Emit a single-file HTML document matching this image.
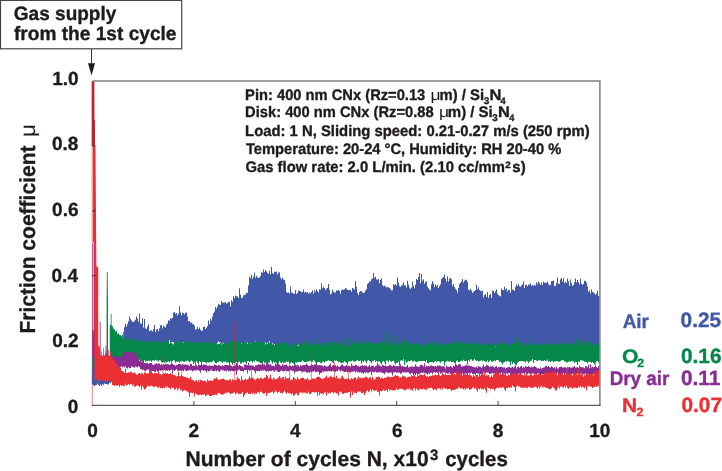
<!DOCTYPE html>
<html>
<head>
<meta charset="utf-8">
<title>Friction coefficient vs number of cycles</title>
<style>
html,body{margin:0;padding:0;background:#fff;}
body{width:722px;height:471px;overflow:hidden;}
svg{display:block;will-change:transform;}
svg text{font-family:"Liberation Sans",sans-serif;font-weight:bold;text-rendering:geometricPrecision;stroke-width:0.35px;stroke-linejoin:round;}
</style>
</head>
<body>
<svg width="722" height="471" viewBox="0 0 722 471">
<rect width="722" height="471" fill="#fff"/>
<g id="ticks">
<line x1="92.0" y1="340.6" x2="95.8" y2="340.6" stroke="#4a1c20" stroke-width="0.8"/>
</g>
<g id="bands">
<path d="M92.5,372.2H93.0V371.8H94.0V371.9H95.0V372.0H96.0V372.4H97.0V372.8H98.0V372.0H99.0V371.9H100.0V373.0H101.0V372.7H102.0V374.1H103.0V373.1H104.0V372.5H105.0V372.5H106.0V372.1H107.0V372.8H108.0V373.8H109.0V372.3H110.0V372.0H111.0V372.3H112.0V372.3H113.0V371.0H114.0V372.9H115.0V372.6H116.0V372.1H117.0V371.6H118.0V372.1H119.0V371.0H120.0V370.9H121.0V370.9H122.0V371.2H123.0V370.8H123.2V380.6H123.0V380.7H122.0V380.5H121.0V382.0H120.0V380.4H119.0V384.3H118.0V380.8H117.0V382.9H116.0V380.9H115.0V380.1H114.0V379.5H113.0V380.4H112.0V382.0H111.0V383.2H110.0V382.4H109.0V384.5H108.0V384.6H107.0V384.0H106.0V384.0H105.0V383.4H104.0V385.1H103.0V384.1H102.0V385.9H101.0V384.4H100.0V383.5H99.0V384.9H98.0V383.6H97.0V385.1H96.0V385.3H95.0V386.2H94.0V385.1H93.0V385.2H92.5Z" fill="#4058a7"/>
<path d="M123.2,332.0H124.0V327.2H125.0V323.8H126.0V326.4H127.0V323.9H128.0V321.3H129.0V316.4H130.0V318.9H131.0V320.4H132.0V322.0H133.0V322.0H134.0V321.3H135.0V319.8H136.0V316.6H137.0V318.5H138.0V321.6H139.0V313.5H140.0V323.4H141.0V323.8H142.0V318.3H143.0V327.5H144.0V319.1H145.0V328.4H146.0V329.1H147.0V326.5H148.0V324.3H149.0V330.9H150.0V330.3H151.0V330.5H152.0V331.5H153.0V329.0H154.0V324.9H155.0V331.9H156.0V329.6H157.0V328.9H158.0V331.2H159.0V328.3H160.0V325.3H161.0V325.3H162.0V328.4H163.0V325.7H164.0V326.7H165.0V327.6H166.0V324.4H167.0V323.5H168.0V320.3H169.0V320.9H170.0V318.3H171.0V318.7H172.0V317.9H173.0V312.8H174.0V311.9H175.0V314.0H176.0V313.1H177.0V315.4H178.0V313.7H179.0V306.2H180.0V312.4H181.0V315.4H182.0V312.8H183.0V313.2H184.0V314.2H185.0V312.7H186.0V312.4H187.0V316.6H188.0V321.2H189.0V321.1H190.0V322.8H191.0V322.6H192.0V323.7H193.0V324.4H194.0V325.6H195.0V329.7H196.0V329.0H197.0V326.7H198.0V329.1H199.0V327.4H200.0V329.8H201.0V330.7H202.0V330.5H203.0V327.0H204.0V326.6H205.0V328.9H206.0V327.8H207.0V325.9H208.0V320.4H209.0V324.0H210.0V318.6H211.0V320.4H212.0V316.5H213.0V313.3H214.0V311.4H215.0V306.9H216.0V308.6H217.0V306.3H218.0V303.8H219.0V304.6H220.0V305.0H221.0V301.1H222.0V302.7H223.0V302.6H224.0V302.6H225.0V301.9H226.0V303.8H227.0V303.1H228.0V301.7H229.0V301.7H230.0V306.3H231.0V300.3H232.0V301.8H233.0V296.3H234.0V298.2H235.0V295.6H236.0V296.3H237.0V296.5H238.0V297.9H239.0V288.2H240.0V294.7H241.0V297.9H242.0V297.7H243.0V295.4H244.0V294.7H245.0V294.8H246.0V292.7H247.0V293.1H248.0V285.5H249.0V276.5H250.0V278.3H251.0V274.7H252.0V278.7H253.0V276.6H254.0V272.5H255.0V277.7H256.0V275.7H257.0V277.6H258.0V278.1H259.0V277.6H260.0V275.9H261.0V272.3H262.0V272.7H263.0V269.6H264.0V272.1H265.0V270.0H266.0V271.2H267.0V272.9H268.0V274.0H269.0V270.8H270.0V274.3H271.0V266.7H272.0V273.0H273.0V274.1H274.0V271.6H275.0V271.9H276.0V271.5H277.0V274.6H278.0V272.8H279.0V272.3H280.0V277.4H281.0V279.5H282.0V277.7H283.0V279.4H284.0V280.1H285.0V283.6H286.0V292.0H287.0V292.9H288.0V292.5H289.0V293.5H290.0V286.6H291.0V292.5H292.0V292.7H293.0V293.6H294.0V293.8H295.0V289.9H296.0V294.0H297.0V293.1H298.0V290.5H299.0V290.9H300.0V290.9H301.0V292.3H302.0V291.9H303.0V289.6H304.0V292.4H305.0V291.9H306.0V292.4H307.0V292.2H308.0V293.5H309.0V292.4H310.0V293.6H311.0V292.0H312.0V290.3H313.0V293.8H314.0V289.9H315.0V291.7H316.0V289.3H317.0V290.9H318.0V292.6H319.0V289.2H320.0V289.8H321.0V283.2H322.0V288.3H323.0V286.7H324.0V288.1H325.0V290.2H326.0V288.8H327.0V288.1H328.0V284.0H329.0V289.4H330.0V294.4H331.0V293.6H332.0V289.7H333.0V291.7H334.0V292.6H335.0V292.5H336.0V290.4H337.0V290.5H338.0V290.0H339.0V291.0H340.0V293.8H341.0V289.9H342.0V289.5H343.0V289.8H344.0V289.4H345.0V287.9H346.0V288.7H347.0V289.8H348.0V290.3H349.0V289.9H350.0V290.0H351.0V291.8H352.0V287.9H353.0V288.5H354.0V289.5H355.0V281.0H356.0V286.6H357.0V293.0H358.0V295.0H359.0V292.1H360.0V291.0H361.0V291.2H362.0V292.5H363.0V293.0H364.0V292.4H365.0V290.6H366.0V289.3H367.0V283.7H368.0V282.9H369.0V281.4H370.0V281.4H371.0V279.2H372.0V278.4H373.0V273.0H374.0V277.8H375.0V276.8H376.0V279.4H377.0V279.4H378.0V279.0H379.0V283.3H380.0V279.9H381.0V278.2H382.0V284.9H383.0V286.3H384.0V285.4H385.0V286.4H386.0V287.6H387.0V286.7H388.0V287.6H389.0V287.7H390.0V289.1H391.0V290.4H392.0V290.2H393.0V284.2H394.0V285.0H395.0V284.2H396.0V285.5H397.0V277.6H398.0V282.4H399.0V286.0H400.0V286.8H401.0V285.4H402.0V284.7H403.0V282.6H404.0V285.3H405.0V285.4H406.0V287.5H407.0V280.7H408.0V284.4H409.0V287.4H410.0V289.1H411.0V287.7H412.0V281.5H413.0V285.7H414.0V288.3H415.0V284.5H416.0V278.9H417.0V279.9H418.0V277.1H419.0V272.9H420.0V283.3H421.0V274.0H422.0V280.8H423.0V279.3H424.0V283.8H425.0V282.1H426.0V281.2H427.0V286.8H428.0V288.2H429.0V289.6H430.0V290.2H431.0V284.2H432.0V281.3H433.0V283.5H434.0V286.9H435.0V284.4H436.0V286.3H437.0V284.7H438.0V288.0H439.0V286.1H440.0V284.2H441.0V278.9H442.0V277.7H443.0V276.9H444.0V274.4H445.0V278.6H446.0V281.5H447.0V276.2H448.0V281.6H449.0V278.4H450.0V278.0H451.0V279.6H452.0V285.8H453.0V284.1H454.0V287.1H455.0V288.7H456.0V290.0H457.0V292.7H458.0V288.1H459.0V284.2H460.0V282.7H461.0V281.3H462.0V279.0H463.0V282.5H464.0V280.8H465.0V279.8H466.0V279.8H467.0V281.7H468.0V289.6H469.0V290.5H470.0V288.8H471.0V290.4H472.0V292.9H473.0V291.7H474.0V291.0H475.0V290.1H476.0V284.6H477.0V289.2H478.0V287.3H479.0V290.0H480.0V290.7H481.0V291.2H482.0V290.7H483.0V297.5H484.0V295.1H485.0V294.1H486.0V296.8H487.0V292.0H488.0V297.8H489.0V295.1H490.0V294.0H491.0V298.0H492.0V290.5H493.0V291.0H494.0V293.1H495.0V291.3H496.0V289.5H497.0V293.8H498.0V295.1H499.0V296.0H500.0V296.5H501.0V288.4H502.0V290.1H503.0V289.9H504.0V286.5H505.0V289.4H506.0V288.4H507.0V291.5H508.0V289.8H509.0V289.9H510.0V292.7H511.0V281.0H512.0V289.6H513.0V290.0H514.0V291.0H515.0V286.9H516.0V284.6H517.0V286.1H518.0V283.8H519.0V286.2H520.0V286.7H521.0V285.4H522.0V284.6H523.0V281.3H524.0V288.1H525.0V285.1H526.0V284.8H527.0V286.6H528.0V284.6H529.0V284.8H530.0V283.2H531.0V285.9H532.0V284.7H533.0V286.0H534.0V284.7H535.0V285.5H536.0V282.3H537.0V284.2H538.0V281.4H539.0V283.1H540.0V285.0H541.0V282.4H542.0V285.1H543.0V281.4H544.0V282.7H545.0V283.1H546.0V282.8H547.0V281.8H548.0V283.9H549.0V285.4H550.0V284.7H551.0V281.1H552.0V280.9H553.0V280.5H554.0V285.9H555.0V285.9H556.0V283.0H557.0V277.4H558.0V284.1H559.0V283.7H560.0V279.2H561.0V278.0H562.0V281.6H563.0V278.3H564.0V283.1H565.0V281.8H566.0V282.9H567.0V278.6H568.0V281.3H569.0V285.9H570.0V279.5H571.0V283.2H572.0V286.0H573.0V284.9H574.0V282.2H575.0V278.5H576.0V282.4H577.0V280.1H578.0V282.0H579.0V284.5H580.0V278.7H581.0V283.6H582.0V284.9H583.0V284.1H584.0V280.7H585.0V281.1H586.0V282.6H587.0V286.6H588.0V291.7H589.0V290.4H590.0V293.4H591.0V289.6H592.0V291.7H593.0V292.5H594.0V293.3H595.0V294.7H596.0V293.5H597.0V290.8H598.0V296.0H599.0V294.2H599.5V347.5H599.0V347.9H598.0V346.6H597.0V347.6H596.0V347.0H595.0V346.5H594.0V348.5H593.0V347.2H592.0V346.6H591.0V349.6H590.0V347.5H589.0V349.6H588.0V349.1H587.0V349.2H586.0V347.9H585.0V349.4H584.0V348.5H583.0V348.6H582.0V349.5H581.0V349.9H580.0V350.6H579.0V348.4H578.0V348.7H577.0V347.1H576.0V347.6H575.0V347.2H574.0V347.7H573.0V346.5H572.0V346.9H571.0V346.4H570.0V345.4H569.0V347.2H568.0V348.5H567.0V347.5H566.0V348.5H565.0V346.0H564.0V347.5H563.0V347.2H562.0V349.0H561.0V350.3H560.0V349.6H559.0V348.1H558.0V347.8H557.0V349.7H556.0V348.7H555.0V348.7H554.0V347.6H553.0V348.0H552.0V347.7H551.0V348.6H550.0V346.5H549.0V347.2H548.0V347.7H547.0V348.5H546.0V348.1H545.0V349.1H544.0V347.0H543.0V346.8H542.0V350.7H541.0V348.6H540.0V350.3H539.0V349.4H538.0V349.4H537.0V348.6H536.0V347.4H535.0V349.4H534.0V349.2H533.0V348.0H532.0V346.0H531.0V345.0H530.0V346.5H529.0V348.5H528.0V348.2H527.0V350.6H526.0V350.0H525.0V348.6H524.0V347.9H523.0V348.1H522.0V348.4H521.0V348.2H520.0V347.7H519.0V346.9H518.0V347.8H517.0V347.1H516.0V348.1H515.0V347.7H514.0V348.9H513.0V346.9H512.0V348.4H511.0V348.0H510.0V349.1H509.0V350.1H508.0V350.2H507.0V349.7H506.0V349.9H505.0V350.3H504.0V350.1H503.0V351.0H502.0V349.5H501.0V349.0H500.0V348.1H499.0V347.8H498.0V346.5H497.0V347.7H496.0V346.3H495.0V348.4H494.0V350.6H493.0V347.2H492.0V347.0H491.0V348.5H490.0V347.8H489.0V348.1H488.0V347.3H487.0V347.5H486.0V347.1H485.0V347.0H484.0V347.4H483.0V348.2H482.0V346.5H481.0V348.2H480.0V347.9H479.0V348.9H478.0V348.1H477.0V348.0H476.0V346.7H475.0V347.8H474.0V347.1H473.0V345.9H472.0V346.8H471.0V349.6H470.0V347.7H469.0V348.3H468.0V348.0H467.0V348.3H466.0V347.0H465.0V348.3H464.0V349.0H463.0V347.9H462.0V347.9H461.0V348.2H460.0V348.9H459.0V348.2H458.0V349.5H457.0V349.3H456.0V351.4H455.0V349.7H454.0V349.0H453.0V348.2H452.0V347.9H451.0V348.0H450.0V348.1H449.0V348.9H448.0V351.0H447.0V350.4H446.0V349.6H445.0V347.0H444.0V348.4H443.0V347.5H442.0V348.5H441.0V347.8H440.0V347.8H439.0V346.3H438.0V346.5H437.0V345.6H436.0V345.8H435.0V345.4H434.0V344.8H433.0V345.9H432.0V346.0H431.0V346.8H430.0V346.2H429.0V347.0H428.0V346.4H427.0V350.5H426.0V346.9H425.0V347.4H424.0V348.4H423.0V347.6H422.0V347.0H421.0V346.5H420.0V344.7H419.0V346.1H418.0V345.9H417.0V346.8H416.0V348.1H415.0V348.7H414.0V348.6H413.0V348.3H412.0V348.1H411.0V345.9H410.0V349.1H409.0V349.8H408.0V348.2H407.0V350.8H406.0V348.8H405.0V348.4H404.0V347.9H403.0V348.5H402.0V347.6H401.0V347.5H400.0V346.7H399.0V347.8H398.0V347.9H397.0V348.8H396.0V349.6H395.0V348.2H394.0V347.3H393.0V347.7H392.0V352.6H391.0V347.2H390.0V348.8H389.0V348.0H388.0V346.5H387.0V347.2H386.0V346.8H385.0V347.3H384.0V347.3H383.0V346.3H382.0V347.6H381.0V350.0H380.0V348.5H379.0V352.5H378.0V349.4H377.0V348.1H376.0V348.5H375.0V350.9H374.0V349.9H373.0V350.6H372.0V350.4H371.0V351.2H370.0V350.1H369.0V348.5H368.0V347.9H367.0V348.9H366.0V347.6H365.0V348.8H364.0V349.6H363.0V350.0H362.0V349.2H361.0V349.3H360.0V347.7H359.0V349.2H358.0V347.3H357.0V347.4H356.0V348.1H355.0V346.7H354.0V347.5H353.0V347.5H352.0V347.9H351.0V350.5H350.0V346.5H349.0V349.5H348.0V346.4H347.0V347.0H346.0V347.4H345.0V348.4H344.0V348.2H343.0V347.6H342.0V346.8H341.0V347.8H340.0V348.4H339.0V348.4H338.0V347.7H337.0V346.3H336.0V347.1H335.0V347.8H334.0V346.9H333.0V347.7H332.0V347.0H331.0V348.7H330.0V348.1H329.0V347.0H328.0V347.6H327.0V348.7H326.0V348.2H325.0V348.6H324.0V348.8H323.0V348.7H322.0V350.2H321.0V350.0H320.0V351.7H319.0V351.2H318.0V349.1H317.0V347.5H316.0V347.3H315.0V347.6H314.0V348.0H313.0V347.6H312.0V347.7H311.0V348.0H310.0V349.2H309.0V349.9H308.0V348.5H307.0V348.7H306.0V349.3H305.0V348.0H304.0V347.3H303.0V346.9H302.0V345.0H301.0V347.7H300.0V345.4H299.0V344.8H298.0V345.7H297.0V345.7H296.0V345.9H295.0V346.6H294.0V346.7H293.0V348.5H292.0V347.8H291.0V348.7H290.0V347.7H289.0V348.3H288.0V348.5H287.0V348.8H286.0V348.5H285.0V348.8H284.0V347.8H283.0V350.6H282.0V348.3H281.0V350.7H280.0V350.8H279.0V351.9H278.0V350.3H277.0V349.4H276.0V347.0H275.0V343.9H274.0V344.2H273.0V343.2H272.0V343.9H271.0V343.2H270.0V341.3H269.0V344.6H268.0V342.7H267.0V344.4H266.0V342.6H265.0V345.6H264.0V345.2H263.0V345.8H262.0V344.3H261.0V344.5H260.0V344.2H259.0V342.9H258.0V343.5H257.0V342.4H256.0V341.4H255.0V341.9H254.0V343.0H253.0V343.5H252.0V343.4H251.0V343.0H250.0V347.5H249.0V344.2H248.0V342.8H247.0V341.8H246.0V342.5H245.0V343.7H244.0V343.7H243.0V345.6H242.0V343.6H241.0V344.5H240.0V346.9H239.0V347.9H238.0V347.9H237.0V350.0H236.0V348.4H235.0V351.0H234.0V349.4H233.0V349.3H232.0V348.7H231.0V347.7H230.0V347.9H229.0V348.6H228.0V348.9H227.0V346.9H226.0V349.2H225.0V348.6H224.0V342.8H223.0V344.1H222.0V343.4H221.0V342.4H220.0V342.2H219.0V341.5H218.0V342.8H217.0V347.0H216.0V346.9H215.0V350.2H214.0V347.1H213.0V347.0H212.0V349.0H211.0V350.8H210.0V347.3H209.0V347.2H208.0V346.1H207.0V346.8H206.0V347.4H205.0V348.3H204.0V349.9H203.0V349.0H202.0V348.6H201.0V348.7H200.0V351.3H199.0V350.2H198.0V349.4H197.0V348.1H196.0V348.0H195.0V347.2H194.0V348.1H193.0V348.9H192.0V348.2H191.0V348.2H190.0V346.7H189.0V343.8H188.0V343.7H187.0V343.6H186.0V343.3H185.0V343.6H184.0V342.3H183.0V342.7H182.0V342.7H181.0V343.9H180.0V344.1H179.0V344.2H178.0V342.5H177.0V342.2H176.0V342.6H175.0V343.0H174.0V342.3H173.0V342.1H172.0V341.9H171.0V342.4H170.0V340.2H169.0V344.1H168.0V347.5H167.0V348.0H166.0V347.2H165.0V346.6H164.0V347.1H163.0V346.9H162.0V347.2H161.0V347.0H160.0V347.6H159.0V347.4H158.0V347.9H157.0V347.9H156.0V347.4H155.0V351.5H154.0V350.1H153.0V348.3H152.0V348.2H151.0V348.2H150.0V348.0H149.0V349.4H148.0V351.5H147.0V351.5H146.0V348.2H145.0V348.9H144.0V348.9H143.0V348.9H142.0V348.4H141.0V348.9H140.0V350.0H139.0V350.7H138.0V350.2H137.0V350.0H136.0V349.4H135.0V349.3H134.0V349.8H133.0V345.9H132.0V346.9H131.0V347.4H130.0V347.8H129.0V347.4H128.0V347.3H127.0V347.9H126.0V348.0H125.0V349.3H124.0V348.9H123.2Z" fill="#4058a7"/>
<path d="M106.9,272 L107.7,272 L108,305 L108,356 L106.6,356 L106.6,305Z" fill="#05884a"/>
<line x1="111.2" y1="313.8" x2="111.2" y2="340.0" stroke="#05884a" stroke-width="0.80" opacity="1"/>
<path d="M109.8,324.1H110.0V324.8H111.0V325.7H112.0V326.3H113.0V328.6H114.0V329.5H115.0V331.5H116.0V330.7H117.0V333.9H118.0V333.6H119.0V334.9H120.0V334.9H121.0V336.3H122.0V334.8H123.0V338.8H124.0V338.7H125.0V338.6H126.0V339.0H127.0V339.1H128.0V339.5H129.0V339.9H130.0V338.0H131.0V339.9H132.0V341.0H133.0V340.6H134.0V339.6H135.0V338.4H136.0V340.2H137.0V341.0H138.0V341.8H139.0V341.6H140.0V340.9H141.0V340.4H142.0V339.6H143.0V341.3H144.0V341.8H145.0V342.1H146.0V342.1H147.0V337.9H148.0V342.7H149.0V342.3H150.0V340.8H151.0V340.9H152.0V341.4H153.0V341.8H154.0V340.6H155.0V341.2H156.0V341.8H157.0V341.3H158.0V342.1H159.0V342.2H160.0V342.4H161.0V341.6H162.0V342.8H163.0V340.5H164.0V341.4H165.0V342.0H166.0V339.0H167.0V342.7H168.0V342.5H169.0V344.0H170.0V342.3H171.0V342.7H172.0V343.7H173.0V344.6H174.0V342.5H175.0V342.2H176.0V341.3H177.0V342.3H178.0V341.7H179.0V342.6H180.0V341.6H181.0V342.0H182.0V342.2H183.0V342.7H184.0V340.8H185.0V342.3H186.0V341.8H187.0V342.4H188.0V342.9H189.0V342.8H190.0V341.9H191.0V342.5H192.0V343.0H193.0V340.7H194.0V342.1H195.0V342.2H196.0V342.7H197.0V343.6H198.0V342.5H199.0V342.7H200.0V341.9H201.0V342.1H202.0V342.7H203.0V342.0H204.0V342.0H205.0V343.5H206.0V342.0H207.0V341.1H208.0V341.7H209.0V342.2H210.0V343.2H211.0V343.8H212.0V342.7H213.0V339.3H214.0V342.7H215.0V338.3H216.0V343.2H217.0V344.2H218.0V344.0H219.0V343.5H220.0V343.0H221.0V344.4H222.0V341.9H223.0V343.5H224.0V343.6H225.0V342.5H226.0V344.4H227.0V343.8H228.0V343.0H229.0V342.9H230.0V340.2H231.0V342.4H232.0V341.0H233.0V340.9H234.0V341.4H235.0V341.3H236.0V341.7H237.0V343.1H238.0V342.1H239.0V342.2H240.0V341.6H241.0V344.0H242.0V342.2H243.0V341.5H244.0V343.3H245.0V342.4H246.0V341.7H247.0V343.7H248.0V343.0H249.0V343.2H250.0V343.5H251.0V342.9H252.0V342.2H253.0V343.0H254.0V341.7H255.0V342.0H256.0V342.3H257.0V342.4H258.0V342.2H259.0V340.8H260.0V341.7H261.0V342.9H262.0V342.7H263.0V344.0H264.0V342.7H265.0V344.4H266.0V342.2H267.0V343.7H268.0V343.3H269.0V342.5H270.0V342.5H271.0V343.2H272.0V344.3H273.0V343.3H274.0V345.0H275.0V344.5H276.0V344.2H277.0V345.0H278.0V343.1H279.0V342.5H280.0V343.4H281.0V343.5H282.0V341.9H283.0V343.1H284.0V343.1H285.0V345.6H286.0V343.1H287.0V343.9H288.0V346.1H289.0V343.8H290.0V343.8H291.0V344.2H292.0V346.1H293.0V344.1H294.0V343.7H295.0V337.6H296.0V345.3H297.0V345.6H298.0V345.7H299.0V342.2H300.0V342.3H301.0V342.8H302.0V343.5H303.0V343.7H304.0V342.3H305.0V344.1H306.0V340.0H307.0V344.1H308.0V344.2H309.0V344.5H310.0V345.2H311.0V340.0H312.0V344.2H313.0V346.5H314.0V339.4H315.0V338.0H316.0V343.8H317.0V342.7H318.0V345.0H319.0V344.4H320.0V343.0H321.0V345.8H322.0V345.6H323.0V346.2H324.0V342.0H325.0V342.9H326.0V345.8H327.0V344.1H328.0V342.5H329.0V341.3H330.0V341.5H331.0V341.5H332.0V344.5H333.0V345.3H334.0V342.0H335.0V341.7H336.0V342.4H337.0V332.3H338.0V344.6H339.0V343.7H340.0V343.6H341.0V344.4H342.0V344.3H343.0V345.4H344.0V339.3H345.0V345.4H346.0V346.2H347.0V341.8H348.0V346.6H349.0V342.9H350.0V337.5H351.0V344.2H352.0V343.5H353.0V343.5H354.0V342.7H355.0V341.5H356.0V343.6H357.0V339.0H358.0V342.0H359.0V344.1H360.0V344.0H361.0V344.2H362.0V339.5H363.0V344.3H364.0V343.2H365.0V344.6H366.0V343.6H367.0V344.9H368.0V341.5H369.0V342.7H370.0V342.4H371.0V343.7H372.0V343.4H373.0V343.6H374.0V342.7H375.0V341.3H376.0V343.7H377.0V340.5H378.0V342.9H379.0V340.1H380.0V343.1H381.0V340.1H382.0V341.1H383.0V343.7H384.0V343.1H385.0V342.7H386.0V332.8H387.0V341.9H388.0V344.2H389.0V341.2H390.0V339.9H391.0V343.9H392.0V345.9H393.0V343.6H394.0V335.7H395.0V344.8H396.0V344.8H397.0V341.4H398.0V342.8H399.0V343.5H400.0V344.6H401.0V344.8H402.0V339.3H403.0V344.7H404.0V340.9H405.0V342.2H406.0V341.9H407.0V343.7H408.0V342.2H409.0V342.7H410.0V344.9H411.0V345.2H412.0V343.8H413.0V344.2H414.0V343.2H415.0V345.3H416.0V343.7H417.0V343.1H418.0V343.7H419.0V344.7H420.0V344.7H421.0V342.7H422.0V345.2H423.0V338.7H424.0V343.1H425.0V345.8H426.0V346.0H427.0V344.9H428.0V343.8H429.0V342.5H430.0V342.7H431.0V344.1H432.0V341.7H433.0V343.5H434.0V345.4H435.0V341.9H436.0V341.6H437.0V344.9H438.0V343.8H439.0V344.9H440.0V344.6H441.0V342.4H442.0V344.9H443.0V344.6H444.0V344.1H445.0V342.3H446.0V344.7H447.0V345.3H448.0V343.9H449.0V342.6H450.0V341.8H451.0V342.7H452.0V343.6H453.0V347.1H454.0V344.1H455.0V343.5H456.0V340.4H457.0V344.0H458.0V341.5H459.0V341.4H460.0V343.1H461.0V346.6H462.0V343.1H463.0V344.8H464.0V343.9H465.0V341.0H466.0V342.8H467.0V341.8H468.0V343.3H469.0V341.8H470.0V343.4H471.0V344.1H472.0V344.3H473.0V334.8H474.0V340.5H475.0V345.7H476.0V343.4H477.0V344.9H478.0V345.7H479.0V343.8H480.0V344.7H481.0V343.5H482.0V343.2H483.0V343.0H484.0V344.6H485.0V340.5H486.0V343.4H487.0V346.0H488.0V344.5H489.0V343.6H490.0V345.5H491.0V343.0H492.0V345.3H493.0V342.4H494.0V343.3H495.0V346.4H496.0V344.9H497.0V344.7H498.0V343.2H499.0V342.9H500.0V343.3H501.0V343.0H502.0V341.9H503.0V343.2H504.0V344.3H505.0V341.5H506.0V343.7H507.0V347.3H508.0V346.3H509.0V342.7H510.0V343.6H511.0V344.1H512.0V344.3H513.0V342.4H514.0V343.8H515.0V342.6H516.0V336.7H517.0V344.3H518.0V342.7H519.0V344.0H520.0V342.1H521.0V343.9H522.0V342.0H523.0V335.0H524.0V344.8H525.0V342.3H526.0V345.1H527.0V343.8H528.0V346.1H529.0V342.7H530.0V341.6H531.0V342.9H532.0V343.7H533.0V343.7H534.0V344.6H535.0V345.4H536.0V344.6H537.0V341.1H538.0V344.7H539.0V342.3H540.0V345.0H541.0V344.0H542.0V342.8H543.0V335.6H544.0V344.1H545.0V341.8H546.0V343.9H547.0V339.6H548.0V344.7H549.0V337.2H550.0V343.8H551.0V341.2H552.0V345.0H553.0V342.3H554.0V343.7H555.0V343.1H556.0V343.0H557.0V343.9H558.0V345.0H559.0V342.1H560.0V343.6H561.0V340.5H562.0V343.2H563.0V343.9H564.0V342.6H565.0V338.3H566.0V345.1H567.0V345.2H568.0V344.3H569.0V342.5H570.0V344.3H571.0V342.9H572.0V342.8H573.0V343.6H574.0V344.1H575.0V344.7H576.0V341.1H577.0V344.0H578.0V337.9H579.0V343.4H580.0V343.5H581.0V343.2H582.0V345.1H583.0V336.4H584.0V340.9H585.0V341.1H586.0V340.7H587.0V344.4H588.0V341.3H589.0V343.4H590.0V345.2H591.0V338.1H592.0V344.6H593.0V342.8H594.0V343.1H595.0V343.9H596.0V345.3H597.0V336.2H598.0V343.0H599.0V344.0H599.5V361.7H599.0V362.4H598.0V360.9H597.0V361.2H596.0V362.6H595.0V364.3H594.0V363.1H593.0V362.1H592.0V363.0H591.0V362.0H590.0V361.8H589.0V361.8H588.0V363.2H587.0V362.1H586.0V361.7H585.0V361.7H584.0V360.7H583.0V360.8H582.0V360.3H581.0V360.2H580.0V361.9H579.0V361.5H578.0V364.9H577.0V361.9H576.0V361.7H575.0V363.0H574.0V361.4H573.0V361.3H572.0V360.9H571.0V361.7H570.0V361.6H569.0V361.8H568.0V362.3H567.0V362.6H566.0V361.6H565.0V361.6H564.0V360.2H563.0V360.3H562.0V359.9H561.0V361.3H560.0V361.8H559.0V361.7H558.0V361.2H557.0V361.1H556.0V361.5H555.0V361.6H554.0V361.9H553.0V360.9H552.0V361.3H551.0V362.2H550.0V361.2H549.0V361.4H548.0V359.6H547.0V360.8H546.0V360.9H545.0V360.1H544.0V360.9H543.0V360.7H542.0V361.1H541.0V360.5H540.0V360.2H539.0V360.3H538.0V361.0H537.0V360.8H536.0V359.9H535.0V360.0H534.0V362.7H533.0V358.9H532.0V360.8H531.0V360.7H530.0V361.4H529.0V362.9H528.0V361.4H527.0V360.8H526.0V362.4H525.0V361.6H524.0V361.4H523.0V360.9H522.0V361.0H521.0V361.2H520.0V361.0H519.0V362.1H518.0V362.7H517.0V365.0H516.0V364.7H515.0V363.2H514.0V362.2H513.0V364.1H512.0V361.6H511.0V365.3H510.0V361.9H509.0V361.3H508.0V360.8H507.0V361.7H506.0V361.4H505.0V362.1H504.0V362.6H503.0V364.4H502.0V362.8H501.0V361.4H500.0V362.1H499.0V360.6H498.0V360.0H497.0V360.1H496.0V361.2H495.0V360.5H494.0V361.4H493.0V361.5H492.0V361.7H491.0V360.3H490.0V360.9H489.0V362.3H488.0V360.6H487.0V361.5H486.0V362.0H485.0V361.2H484.0V360.6H483.0V361.3H482.0V360.2H481.0V360.8H480.0V361.1H479.0V361.4H478.0V360.4H477.0V361.0H476.0V360.3H475.0V359.0H474.0V360.6H473.0V360.8H472.0V359.4H471.0V359.2H470.0V361.5H469.0V360.1H468.0V364.6H467.0V360.8H466.0V360.9H465.0V360.9H464.0V359.8H463.0V361.2H462.0V360.5H461.0V361.2H460.0V362.0H459.0V362.2H458.0V360.6H457.0V360.7H456.0V363.2H455.0V363.1H454.0V361.8H453.0V362.0H452.0V361.9H451.0V360.9H450.0V361.7H449.0V361.5H448.0V360.7H447.0V361.6H446.0V362.2H445.0V365.4H444.0V361.1H443.0V361.5H442.0V361.4H441.0V362.7H440.0V361.7H439.0V361.1H438.0V361.3H437.0V362.1H436.0V361.1H435.0V361.4H434.0V363.0H433.0V361.9H432.0V362.1H431.0V362.3H430.0V362.1H429.0V363.4H428.0V363.0H427.0V360.2H426.0V362.1H425.0V361.1H424.0V361.0H423.0V361.1H422.0V361.2H421.0V361.0H420.0V361.1H419.0V361.6H418.0V361.4H417.0V362.3H416.0V361.7H415.0V360.5H414.0V361.6H413.0V361.8H412.0V360.1H411.0V360.7H410.0V361.3H409.0V360.9H408.0V361.8H407.0V362.8H406.0V360.8H405.0V364.7H404.0V358.9H403.0V360.7H402.0V360.3H401.0V360.7H400.0V365.1H399.0V361.6H398.0V363.0H397.0V362.7H396.0V364.4H395.0V362.5H394.0V360.8H393.0V361.0H392.0V362.1H391.0V361.1H390.0V360.2H389.0V362.3H388.0V360.7H387.0V360.6H386.0V364.5H385.0V362.3H384.0V361.3H383.0V361.7H382.0V364.5H381.0V362.8H380.0V361.5H379.0V361.4H378.0V361.8H377.0V361.1H376.0V361.9H375.0V360.0H374.0V361.2H373.0V360.9H372.0V363.2H371.0V361.7H370.0V360.9H369.0V360.0H368.0V360.7H367.0V363.0H366.0V360.9H365.0V360.4H364.0V361.9H363.0V361.0H362.0V363.8H361.0V360.6H360.0V361.0H359.0V360.8H358.0V360.3H357.0V360.7H356.0V361.5H355.0V361.5H354.0V361.2H353.0V360.6H352.0V361.3H351.0V361.6H350.0V361.2H349.0V361.7H348.0V364.4H347.0V362.7H346.0V362.0H345.0V361.2H344.0V362.6H343.0V362.9H342.0V362.8H341.0V362.8H340.0V361.7H339.0V362.2H338.0V361.3H337.0V360.5H336.0V361.1H335.0V360.2H334.0V363.2H333.0V362.2H332.0V361.6H331.0V361.0H330.0V360.8H329.0V360.3H328.0V360.8H327.0V361.2H326.0V361.3H325.0V362.5H324.0V361.6H323.0V361.7H322.0V363.4H321.0V362.8H320.0V362.0H319.0V361.9H318.0V362.2H317.0V366.0H316.0V362.5H315.0V360.8H314.0V360.2H313.0V361.7H312.0V361.7H311.0V360.8H310.0V361.3H309.0V361.6H308.0V361.4H307.0V362.1H306.0V362.1H305.0V362.1H304.0V361.5H303.0V360.5H302.0V361.6H301.0V362.0H300.0V362.0H299.0V361.9H298.0V362.1H297.0V362.7H296.0V362.4H295.0V365.8H294.0V363.4H293.0V363.1H292.0V362.3H291.0V362.9H290.0V364.3H289.0V361.6H288.0V362.0H287.0V361.3H286.0V362.5H285.0V362.6H284.0V363.5H283.0V362.1H282.0V363.0H281.0V362.6H280.0V361.0H279.0V363.1H278.0V363.7H277.0V363.0H276.0V362.4H275.0V362.6H274.0V361.7H273.0V363.5H272.0V361.5H271.0V360.1H270.0V362.7H269.0V362.7H268.0V364.8H267.0V364.7H266.0V362.6H265.0V363.2H264.0V361.5H263.0V362.5H262.0V363.2H261.0V363.1H260.0V362.2H259.0V361.8H258.0V361.5H257.0V361.2H256.0V359.9H255.0V361.4H254.0V361.1H253.0V362.8H252.0V361.1H251.0V361.2H250.0V362.1H249.0V361.1H248.0V361.1H247.0V364.1H246.0V362.2H245.0V361.5H244.0V362.7H243.0V362.0H242.0V363.3H241.0V363.8H240.0V361.5H239.0V362.3H238.0V363.3H237.0V362.1H236.0V362.4H235.0V362.9H234.0V363.1H233.0V364.7H232.0V362.9H231.0V362.1H230.0V366.3H229.0V362.5H228.0V362.2H227.0V362.4H226.0V361.0H225.0V361.7H224.0V361.5H223.0V362.8H222.0V362.1H221.0V361.2H220.0V361.3H219.0V361.9H218.0V362.3H217.0V363.2H216.0V363.0H215.0V361.8H214.0V360.5H213.0V361.3H212.0V362.2H211.0V362.1H210.0V362.6H209.0V362.5H208.0V361.9H207.0V363.3H206.0V362.6H205.0V362.1H204.0V361.7H203.0V361.8H202.0V361.5H201.0V362.1H200.0V361.2H199.0V363.9H198.0V362.6H197.0V361.1H196.0V365.5H195.0V362.2H194.0V364.1H193.0V361.3H192.0V360.6H191.0V361.6H190.0V362.3H189.0V361.1H188.0V360.5H187.0V361.4H186.0V360.7H185.0V362.0H184.0V361.8H183.0V361.0H182.0V361.1H181.0V361.5H180.0V362.5H179.0V361.5H178.0V362.1H177.0V361.5H176.0V362.8H175.0V360.5H174.0V360.2H173.0V361.1H172.0V362.3H171.0V361.1H170.0V362.2H169.0V361.3H168.0V361.7H167.0V362.4H166.0V361.8H165.0V362.8H164.0V362.3H163.0V362.1H162.0V362.2H161.0V360.6H160.0V360.2H159.0V361.5H158.0V360.6H157.0V360.4H156.0V359.8H155.0V360.7H154.0V360.2H153.0V360.6H152.0V361.9H151.0V360.6H150.0V361.3H149.0V360.4H148.0V360.9H147.0V361.2H146.0V361.6H145.0V360.2H144.0V362.4H143.0V362.0H142.0V361.2H141.0V359.8H140.0V359.8H139.0V361.1H138.0V359.7H137.0V359.9H136.0V360.3H135.0V360.1H134.0V360.1H133.0V360.0H132.0V360.4H131.0V360.4H130.0V360.5H129.0V359.8H128.0V359.1H127.0V357.7H126.0V358.8H125.0V360.8H124.0V361.3H123.0V359.6H122.0V359.6H121.0V357.3H120.0V357.7H119.0V358.1H118.0V357.5H117.0V360.9H116.0V359.2H115.0V360.2H114.0V358.3H113.0V358.2H112.0V362.6H111.0V358.5H110.0V358.2H109.8Z" fill="#05884a"/>
<line x1="100.2" y1="322.0" x2="100.2" y2="372.0" stroke="#8a2c91" stroke-width="0.90" opacity="1"/>
<line x1="106.1" y1="346.0" x2="106.1" y2="372.0" stroke="#8a2c91" stroke-width="0.80" opacity="1"/>
<path d="M97.0,355.1H98.0V355.6H99.0V356.3H100.0V356.1H101.0V355.6H102.0V355.8H103.0V354.3H104.0V355.9H105.0V354.4H106.0V353.5H107.0V356.6H108.0V355.4H109.0V355.9H110.0V355.8H111.0V355.4H112.0V356.4H113.0V356.3H114.0V356.0H115.0V356.7H116.0V356.6H117.0V356.9H118.0V357.5H119.0V357.0H120.0V357.0H121.0V355.6H122.0V355.5H123.0V353.6H124.0V352.3H125.0V350.5H126.0V351.7H127.0V351.8H128.0V352.0H129.0V352.6H130.0V353.2H131.0V352.8H132.0V351.9H133.0V351.9H134.0V352.3H135.0V354.2H136.0V355.9H137.0V357.3H138.0V358.6H139.0V360.7H140.0V359.8H141.0V362.0H142.0V362.3H143.0V359.6H144.0V363.1H145.0V363.3H146.0V363.0H147.0V362.8H148.0V364.0H149.0V362.9H150.0V362.9H151.0V363.1H152.0V364.5H153.0V364.9H154.0V364.4H155.0V363.8H156.0V363.2H157.0V364.0H158.0V363.6H159.0V363.4H160.0V365.1H161.0V364.1H162.0V365.3H163.0V364.1H164.0V364.4H165.0V363.9H166.0V364.2H167.0V364.1H168.0V364.3H169.0V364.7H170.0V364.6H171.0V362.5H172.0V364.1H173.0V364.7H174.0V365.1H175.0V365.8H176.0V364.7H177.0V365.1H178.0V364.0H179.0V364.0H180.0V364.3H181.0V365.3H182.0V364.1H183.0V364.6H184.0V364.8H185.0V364.3H186.0V364.8H187.0V364.7H188.0V365.3H189.0V365.8H190.0V363.7H191.0V364.0H192.0V366.1H193.0V365.2H194.0V365.9H195.0V365.5H196.0V365.0H197.0V366.3H198.0V364.5H199.0V365.1H200.0V364.9H201.0V361.1H202.0V365.3H203.0V364.4H204.0V364.6H205.0V364.8H206.0V364.8H207.0V366.1H208.0V365.8H209.0V365.2H210.0V365.7H211.0V365.7H212.0V365.7H213.0V366.0H214.0V364.1H215.0V365.1H216.0V365.2H217.0V365.9H218.0V364.8H219.0V365.4H220.0V366.0H221.0V365.7H222.0V365.4H223.0V365.8H224.0V365.2H225.0V365.1H226.0V364.9H227.0V364.9H228.0V365.5H229.0V365.5H230.0V365.2H231.0V365.8H232.0V366.6H233.0V365.9H234.0V365.2H235.0V365.6H236.0V363.0H237.0V363.4H238.0V365.8H239.0V364.9H240.0V365.8H241.0V366.3H242.0V366.3H243.0V367.4H244.0V364.6H245.0V364.6H246.0V365.0H247.0V365.2H248.0V362.7H249.0V365.6H250.0V365.2H251.0V365.9H252.0V365.7H253.0V365.4H254.0V366.9H255.0V365.5H256.0V365.2H257.0V364.9H258.0V364.2H259.0V364.6H260.0V364.5H261.0V364.6H262.0V362.1H263.0V364.6H264.0V364.3H265.0V365.4H266.0V362.9H267.0V363.8H268.0V363.9H269.0V365.0H270.0V363.8H271.0V365.4H272.0V365.8H273.0V365.8H274.0V366.6H275.0V363.6H276.0V364.5H277.0V361.9H278.0V363.5H279.0V364.8H280.0V365.8H281.0V366.0H282.0V364.0H283.0V365.5H284.0V365.0H285.0V365.1H286.0V364.4H287.0V365.8H288.0V366.6H289.0V366.1H290.0V365.8H291.0V366.2H292.0V365.4H293.0V366.1H294.0V365.6H295.0V364.6H296.0V365.4H297.0V364.8H298.0V365.5H299.0V366.8H300.0V365.1H301.0V365.7H302.0V365.6H303.0V365.0H304.0V365.1H305.0V364.8H306.0V363.6H307.0V365.0H308.0V365.9H309.0V365.8H310.0V365.5H311.0V364.5H312.0V364.8H313.0V365.4H314.0V364.4H315.0V364.3H316.0V363.7H317.0V364.9H318.0V365.6H319.0V364.9H320.0V365.2H321.0V365.5H322.0V365.8H323.0V366.5H324.0V365.6H325.0V365.8H326.0V366.6H327.0V366.5H328.0V366.0H329.0V365.1H330.0V363.5H331.0V366.9H332.0V365.5H333.0V364.9H334.0V365.6H335.0V365.3H336.0V366.4H337.0V365.2H338.0V366.7H339.0V367.1H340.0V365.8H341.0V364.8H342.0V364.5H343.0V365.9H344.0V366.2H345.0V365.7H346.0V365.0H347.0V365.7H348.0V365.8H349.0V365.9H350.0V366.7H351.0V363.7H352.0V365.4H353.0V366.1H354.0V365.8H355.0V364.7H356.0V365.0H357.0V366.2H358.0V365.7H359.0V366.8H360.0V365.7H361.0V366.2H362.0V365.1H363.0V366.0H364.0V365.6H365.0V365.4H366.0V365.7H367.0V366.7H368.0V366.2H369.0V364.9H370.0V367.0H371.0V365.5H372.0V366.0H373.0V365.7H374.0V367.2H375.0V366.1H376.0V365.7H377.0V362.8H378.0V364.8H379.0V365.5H380.0V366.0H381.0V366.4H382.0V364.9H383.0V365.3H384.0V365.9H385.0V365.5H386.0V365.9H387.0V366.3H388.0V366.1H389.0V364.8H390.0V365.2H391.0V365.7H392.0V366.3H393.0V365.1H394.0V365.8H395.0V366.1H396.0V366.2H397.0V366.1H398.0V366.3H399.0V365.3H400.0V364.3H401.0V366.4H402.0V366.1H403.0V366.6H404.0V366.4H405.0V367.0H406.0V366.5H407.0V364.9H408.0V367.5H409.0V366.8H410.0V367.0H411.0V366.4H412.0V366.4H413.0V367.1H414.0V366.6H415.0V364.5H416.0V366.1H417.0V366.7H418.0V366.8H419.0V366.6H420.0V365.1H421.0V364.7H422.0V365.3H423.0V366.5H424.0V363.3H425.0V367.1H426.0V365.8H427.0V366.4H428.0V365.8H429.0V366.6H430.0V365.6H431.0V365.6H432.0V366.0H433.0V366.1H434.0V366.6H435.0V365.7H436.0V366.5H437.0V365.6H438.0V365.7H439.0V365.5H440.0V365.7H441.0V366.3H442.0V366.4H443.0V366.1H444.0V366.8H445.0V368.4H446.0V365.6H447.0V366.7H448.0V366.7H449.0V367.1H450.0V366.0H451.0V366.7H452.0V367.6H453.0V365.8H454.0V366.2H455.0V363.6H456.0V364.8H457.0V365.4H458.0V364.5H459.0V364.0H460.0V364.4H461.0V366.7H462.0V366.2H463.0V366.2H464.0V365.9H465.0V365.4H466.0V364.4H467.0V366.1H468.0V365.6H469.0V365.5H470.0V366.2H471.0V366.1H472.0V366.7H473.0V366.7H474.0V367.2H475.0V367.5H476.0V366.6H477.0V367.7H478.0V365.9H479.0V366.7H480.0V366.8H481.0V368.1H482.0V366.4H483.0V364.5H484.0V367.0H485.0V366.2H486.0V365.1H487.0V365.2H488.0V365.7H489.0V366.9H490.0V366.4H491.0V366.4H492.0V365.9H493.0V366.7H494.0V367.5H495.0V366.4H496.0V366.1H497.0V367.5H498.0V367.3H499.0V367.1H500.0V367.1H501.0V366.8H502.0V367.3H503.0V367.4H504.0V367.3H505.0V368.4H506.0V368.1H507.0V367.4H508.0V367.1H509.0V366.8H510.0V367.7H511.0V367.5H512.0V366.8H513.0V367.4H514.0V366.7H515.0V365.6H516.0V368.4H517.0V367.1H518.0V366.6H519.0V367.8H520.0V366.6H521.0V366.0H522.0V367.8H523.0V367.0H524.0V367.5H525.0V366.0H526.0V366.8H527.0V367.0H528.0V365.9H529.0V366.8H530.0V367.5H531.0V366.4H532.0V367.3H533.0V367.0H534.0V366.0H535.0V367.1H536.0V367.5H537.0V368.2H538.0V368.2H539.0V368.7H540.0V367.6H541.0V368.7H542.0V368.0H543.0V367.6H544.0V367.2H545.0V366.2H546.0V365.8H547.0V366.9H548.0V366.0H549.0V367.3H550.0V367.6H551.0V366.3H552.0V366.9H553.0V368.0H554.0V367.3H555.0V368.6H556.0V366.8H557.0V368.5H558.0V368.4H559.0V367.1H560.0V366.8H561.0V366.7H562.0V367.5H563.0V367.5H564.0V367.2H565.0V367.3H566.0V368.2H567.0V367.0H568.0V367.3H569.0V367.1H570.0V367.5H571.0V367.7H572.0V367.2H573.0V367.3H574.0V366.1H575.0V367.4H576.0V367.6H577.0V367.0H578.0V368.1H579.0V365.4H580.0V367.0H581.0V367.3H582.0V367.2H583.0V367.4H584.0V368.3H585.0V365.9H586.0V366.4H587.0V367.2H588.0V364.8H589.0V368.2H590.0V364.2H591.0V367.6H592.0V366.7H593.0V367.3H594.0V366.9H595.0V366.2H596.0V367.0H597.0V367.9H598.0V366.1H599.0V368.1H599.5V373.9H599.0V373.4H598.0V374.8H597.0V375.7H596.0V374.5H595.0V375.1H594.0V373.9H593.0V374.4H592.0V375.8H591.0V374.5H590.0V376.1H589.0V374.3H588.0V375.9H587.0V374.8H586.0V373.2H585.0V374.4H584.0V374.5H583.0V373.9H582.0V373.8H581.0V373.3H580.0V374.5H579.0V373.2H578.0V373.5H577.0V374.1H576.0V375.2H575.0V373.7H574.0V373.8H573.0V373.7H572.0V374.2H571.0V374.6H570.0V374.4H569.0V374.5H568.0V374.8H567.0V373.2H566.0V373.6H565.0V374.5H564.0V373.3H563.0V374.7H562.0V373.8H561.0V375.2H560.0V373.9H559.0V374.0H558.0V372.6H557.0V374.1H556.0V373.3H555.0V373.9H554.0V373.7H553.0V372.8H552.0V373.6H551.0V374.7H550.0V374.1H549.0V373.8H548.0V373.8H547.0V375.5H546.0V375.3H545.0V373.8H544.0V374.3H543.0V373.9H542.0V373.9H541.0V375.0H540.0V374.6H539.0V373.2H538.0V373.4H537.0V374.7H536.0V373.9H535.0V373.5H534.0V373.4H533.0V373.6H532.0V373.7H531.0V374.1H530.0V373.8H529.0V373.0H528.0V373.9H527.0V374.1H526.0V372.5H525.0V374.7H524.0V373.2H523.0V373.3H522.0V373.5H521.0V373.9H520.0V373.5H519.0V373.4H518.0V374.1H517.0V374.5H516.0V374.0H515.0V374.7H514.0V374.2H513.0V374.6H512.0V374.7H511.0V375.1H510.0V373.1H509.0V373.1H508.0V373.9H507.0V373.3H506.0V373.9H505.0V373.7H504.0V373.5H503.0V375.8H502.0V372.6H501.0V373.4H500.0V373.2H499.0V374.2H498.0V374.0H497.0V372.4H496.0V373.4H495.0V373.3H494.0V373.4H493.0V373.0H492.0V373.4H491.0V374.0H490.0V373.9H489.0V372.8H488.0V372.7H487.0V372.3H486.0V373.6H485.0V376.1H484.0V372.5H483.0V373.9H482.0V374.2H481.0V373.9H480.0V373.5H479.0V373.5H478.0V373.4H477.0V373.1H476.0V375.4H475.0V373.7H474.0V374.0H473.0V374.1H472.0V372.4H471.0V373.4H470.0V373.3H469.0V373.2H468.0V374.1H467.0V373.4H466.0V373.0H465.0V374.5H464.0V376.0H463.0V373.6H462.0V374.4H461.0V372.9H460.0V373.9H459.0V373.2H458.0V374.2H457.0V372.9H456.0V372.9H455.0V373.3H454.0V373.7H453.0V372.8H452.0V374.0H451.0V374.0H450.0V372.6H449.0V373.4H448.0V373.7H447.0V373.1H446.0V373.1H445.0V372.4H444.0V372.1H443.0V372.8H442.0V372.7H441.0V373.8H440.0V371.8H439.0V373.5H438.0V372.8H437.0V372.3H436.0V373.0H435.0V372.1H434.0V372.6H433.0V373.8H432.0V372.7H431.0V372.7H430.0V373.9H429.0V373.0H428.0V374.4H427.0V373.8H426.0V373.0H425.0V373.3H424.0V372.4H423.0V373.0H422.0V372.4H421.0V372.9H420.0V374.0H419.0V374.3H418.0V374.0H417.0V373.3H416.0V374.9H415.0V373.9H414.0V375.5H413.0V373.3H412.0V373.1H411.0V374.3H410.0V373.4H409.0V372.5H408.0V372.3H407.0V372.6H406.0V372.6H405.0V372.2H404.0V372.4H403.0V372.2H402.0V373.4H401.0V373.8H400.0V372.7H399.0V372.5H398.0V372.8H397.0V372.4H396.0V371.9H395.0V372.5H394.0V372.5H393.0V375.6H392.0V372.4H391.0V372.8H390.0V372.5H389.0V373.1H388.0V372.5H387.0V372.3H386.0V372.5H385.0V374.0H384.0V373.2H383.0V372.8H382.0V372.5H381.0V372.4H380.0V371.7H379.0V372.4H378.0V372.5H377.0V372.6H376.0V371.4H375.0V372.3H374.0V372.2H373.0V371.8H372.0V375.3H371.0V371.7H370.0V372.1H369.0V372.9H368.0V372.8H367.0V372.3H366.0V373.0H365.0V372.1H364.0V373.9H363.0V372.8H362.0V372.8H361.0V372.1H360.0V372.6H359.0V372.3H358.0V372.2H357.0V371.3H356.0V372.6H355.0V371.1H354.0V371.6H353.0V371.8H352.0V371.7H351.0V372.6H350.0V372.3H349.0V371.3H348.0V372.3H347.0V371.6H346.0V371.9H345.0V372.0H344.0V371.6H343.0V371.0H342.0V370.5H341.0V371.5H340.0V370.3H339.0V369.5H338.0V371.2H337.0V371.2H336.0V372.1H335.0V371.4H334.0V371.1H333.0V370.8H332.0V371.7H331.0V371.0H330.0V370.9H329.0V371.3H328.0V371.4H327.0V371.6H326.0V371.3H325.0V371.5H324.0V371.8H323.0V371.5H322.0V373.0H321.0V373.0H320.0V374.8H319.0V372.0H318.0V371.6H317.0V372.0H316.0V372.3H315.0V370.7H314.0V371.4H313.0V371.4H312.0V372.3H311.0V371.8H310.0V372.7H309.0V372.3H308.0V372.8H307.0V372.5H306.0V371.8H305.0V371.4H304.0V371.6H303.0V372.4H302.0V371.7H301.0V370.9H300.0V370.8H299.0V371.1H298.0V371.5H297.0V371.4H296.0V371.4H295.0V373.5H294.0V370.9H293.0V371.1H292.0V369.9H291.0V370.6H290.0V370.8H289.0V371.2H288.0V371.0H287.0V371.2H286.0V370.4H285.0V371.3H284.0V371.4H283.0V371.1H282.0V370.0H281.0V371.1H280.0V372.0H279.0V372.1H278.0V371.4H277.0V370.4H276.0V370.2H275.0V371.9H274.0V370.8H273.0V370.2H272.0V371.3H271.0V370.7H270.0V371.0H269.0V371.6H268.0V370.9H267.0V371.4H266.0V371.3H265.0V369.9H264.0V370.7H263.0V370.0H262.0V371.0H261.0V370.6H260.0V371.3H259.0V371.1H258.0V371.3H257.0V370.7H256.0V373.5H255.0V371.3H254.0V370.1H253.0V370.1H252.0V369.8H251.0V370.3H250.0V370.8H249.0V369.9H248.0V373.6H247.0V370.0H246.0V370.1H245.0V370.1H244.0V371.7H243.0V371.0H242.0V370.9H241.0V371.1H240.0V369.7H239.0V369.7H238.0V370.8H237.0V374.6H236.0V370.4H235.0V371.0H234.0V371.3H233.0V371.1H232.0V370.7H231.0V371.3H230.0V371.0H229.0V371.2H228.0V370.0H227.0V371.4H226.0V370.6H225.0V370.9H224.0V370.2H223.0V370.5H222.0V369.6H221.0V370.4H220.0V371.7H219.0V371.2H218.0V370.1H217.0V371.2H216.0V370.5H215.0V371.0H214.0V371.2H213.0V371.0H212.0V369.6H211.0V370.5H210.0V371.0H209.0V371.5H208.0V370.6H207.0V372.6H206.0V370.7H205.0V370.5H204.0V370.9H203.0V370.1H202.0V370.3H201.0V372.8H200.0V370.8H199.0V370.5H198.0V369.8H197.0V370.2H196.0V370.8H195.0V370.0H194.0V370.7H193.0V371.6H192.0V369.9H191.0V370.5H190.0V369.8H189.0V370.7H188.0V370.6H187.0V371.0H186.0V370.7H185.0V369.4H184.0V371.3H183.0V370.5H182.0V370.9H181.0V370.4H180.0V370.4H179.0V371.1H178.0V370.7H177.0V369.1H176.0V370.1H175.0V370.9H174.0V370.0H173.0V373.6H172.0V369.5H171.0V370.3H170.0V371.3H169.0V370.1H168.0V370.8H167.0V370.6H166.0V370.6H165.0V370.1H164.0V370.4H163.0V370.4H162.0V370.2H161.0V370.9H160.0V370.5H159.0V371.7H158.0V371.8H157.0V370.6H156.0V372.1H155.0V371.8H154.0V371.1H153.0V371.1H152.0V371.2H151.0V370.8H150.0V369.2H149.0V369.7H148.0V369.5H147.0V370.2H146.0V371.4H145.0V370.8H144.0V369.7H143.0V369.9H142.0V369.3H141.0V369.0H140.0V367.0H139.0V366.2H138.0V367.5H137.0V366.8H136.0V366.4H135.0V367.7H134.0V367.2H133.0V366.8H132.0V366.4H131.0V368.0H130.0V368.3H129.0V367.2H128.0V368.4H127.0V368.0H126.0V365.9H125.0V367.5H124.0V366.6H123.0V367.2H122.0V366.3H121.0V367.3H120.0V367.7H119.0V367.9H118.0V368.0H117.0V367.7H116.0V368.0H115.0V369.2H114.0V368.4H113.0V368.3H112.0V369.3H111.0V369.8H110.0V369.8H109.0V372.5H108.0V371.6H107.0V370.7H106.0V374.4H105.0V371.4H104.0V371.6H103.0V370.9H102.0V373.1H101.0V372.1H100.0V373.0H99.0V372.2H98.0V371.9H97.0Z" fill="#8a2c91"/>
<path d="M91.8,81 L94.2,81 L94.3,120 L94.9,121 L94.9,146 L95.5,147 L95.9,200 L96.1,230 L96.4,266 L98.2,268 L98.2,345 L100,348 L100,375 L93.4,382 L93.4,242 L92.6,242 L92.6,146 L91.8,146Z" fill="#eb3035"/>
<path d="M91.8,81 L94.2,81 L94.3,120 L94.9,121 L94.9,146 L91.8,146Z" fill="#bd2630"/>
<line x1="92.4" y1="243" x2="92.4" y2="384" stroke="#8a2c91" stroke-width="0.9"/>
<path d="M92.5,330 L93.6,330 L94.3,345 L94.3,372 L92.5,372Z" fill="#8a2c91"/>
<rect x="92.85" y="242" width="0.6" height="88" fill="#f6b5bb"/>
<rect x="91.6" y="146" width="1.0" height="96" fill="#f29aa1"/>
<path d="M91.9,371 L93.2,368 L94.4,372 L94.4,383 L93.5,385 L92.6,383.5 L91.9,384.5Z" fill="#4058a7"/>
<path d="M92.4,357 L93.6,356 L94.3,358 L94.3,369 L93.2,368 L92.4,370Z" fill="#05884a"/>
<line x1="92.3" y1="384" x2="92.3" y2="405.5" stroke="#e4656c" stroke-width="0.8"/>
<path d="M97.0,356.2H98.0V356.0H99.0V355.6H100.0V356.0H101.0V355.3H102.0V356.1H103.0V355.3H104.0V355.2H105.0V353.7H106.0V356.1H107.0V355.2H108.0V358.4H109.0V356.7H110.0V357.0H111.0V357.5H112.0V358.6H113.0V360.2H114.0V360.2H115.0V362.4H116.0V363.8H117.0V365.1H118.0V366.9H119.0V367.9H120.0V367.8H121.0V370.4H122.0V371.0H123.0V371.5H124.0V373.0H125.0V368.7H126.0V372.8H127.0V373.0H128.0V372.3H129.0V372.4H130.0V371.6H131.0V372.0H132.0V373.3H133.0V372.5H134.0V372.5H135.0V373.5H136.0V374.8H137.0V374.6H138.0V373.6H139.0V373.0H140.0V374.0H141.0V372.7H142.0V373.5H143.0V374.4H144.0V372.2H145.0V373.3H146.0V373.1H147.0V373.9H148.0V373.5H149.0V368.5H150.0V370.6H151.0V371.4H152.0V373.1H153.0V374.2H154.0V373.0H155.0V373.6H156.0V373.1H157.0V373.8H158.0V371.9H159.0V373.5H160.0V374.0H161.0V375.2H162.0V374.2H163.0V373.1H164.0V373.7H165.0V373.0H166.0V373.5H167.0V373.2H168.0V373.9H169.0V374.0H170.0V372.7H171.0V374.2H172.0V374.1H173.0V375.2H174.0V375.1H175.0V375.5H176.0V376.4H177.0V376.0H178.0V371.8H179.0V376.1H180.0V376.2H181.0V374.5H182.0V376.0H183.0V376.4H184.0V377.1H185.0V376.9H186.0V377.7H187.0V377.5H188.0V378.2H189.0V378.6H190.0V376.9H191.0V379.4H192.0V379.8H193.0V380.5H194.0V381.5H195.0V380.4H196.0V380.3H197.0V382.0H198.0V379.9H199.0V382.0H200.0V379.8H201.0V380.2H202.0V380.6H203.0V381.1H204.0V381.1H205.0V380.6H206.0V382.2H207.0V379.6H208.0V380.7H209.0V380.8H210.0V380.3H211.0V380.4H212.0V380.9H213.0V379.6H214.0V378.3H215.0V378.8H216.0V377.4H217.0V378.9H218.0V379.9H219.0V379.7H220.0V379.3H221.0V378.9H222.0V378.7H223.0V378.5H224.0V379.5H225.0V380.1H226.0V380.3H227.0V380.1H228.0V380.5H229.0V379.6H230.0V379.2H231.0V381.3H232.0V379.3H233.0V380.2H234.0V379.9H235.0V380.4H236.0V379.4H237.0V376.8H238.0V378.6H239.0V379.0H240.0V381.1H241.0V376.3H242.0V379.6H243.0V380.3H244.0V379.8H245.0V378.5H246.0V379.9H247.0V379.3H248.0V378.5H249.0V376.3H250.0V378.2H251.0V378.6H252.0V377.4H253.0V378.6H254.0V379.3H255.0V380.6H256.0V378.9H257.0V377.8H258.0V378.6H259.0V379.3H260.0V377.8H261.0V377.7H262.0V378.9H263.0V378.4H264.0V377.6H265.0V377.5H266.0V374.7H267.0V376.0H268.0V378.4H269.0V377.5H270.0V374.7H271.0V378.6H272.0V379.5H273.0V377.5H274.0V378.6H275.0V379.4H276.0V378.9H277.0V378.3H278.0V377.5H279.0V376.1H280.0V377.5H281.0V379.1H282.0V377.3H283.0V377.0H284.0V379.2H285.0V376.5H286.0V378.4H287.0V377.9H288.0V378.2H289.0V377.5H290.0V380.4H291.0V379.2H292.0V379.8H293.0V377.1H294.0V377.9H295.0V379.3H296.0V379.4H297.0V377.0H298.0V379.1H299.0V379.5H300.0V378.3H301.0V378.1H302.0V377.8H303.0V377.7H304.0V379.2H305.0V378.9H306.0V379.6H307.0V377.8H308.0V379.6H309.0V380.5H310.0V379.5H311.0V379.6H312.0V378.6H313.0V378.2H314.0V379.1H315.0V378.4H316.0V377.5H317.0V376.8H318.0V376.8H319.0V377.1H320.0V378.0H321.0V378.8H322.0V378.9H323.0V378.4H324.0V377.7H325.0V377.6H326.0V375.4H327.0V377.7H328.0V377.6H329.0V377.3H330.0V375.8H331.0V376.9H332.0V377.3H333.0V377.0H334.0V377.4H335.0V377.8H336.0V375.7H337.0V378.6H338.0V378.3H339.0V378.2H340.0V378.8H341.0V376.8H342.0V375.8H343.0V377.8H344.0V378.9H345.0V378.7H346.0V378.7H347.0V379.2H348.0V378.2H349.0V379.2H350.0V379.8H351.0V377.9H352.0V378.9H353.0V378.4H354.0V377.8H355.0V376.9H356.0V379.6H357.0V378.3H358.0V376.4H359.0V378.3H360.0V377.7H361.0V378.5H362.0V377.8H363.0V377.9H364.0V377.7H365.0V376.7H366.0V377.1H367.0V378.1H368.0V378.4H369.0V377.6H370.0V377.0H371.0V379.3H372.0V376.8H373.0V378.6H374.0V380.0H375.0V378.5H376.0V377.0H377.0V377.3H378.0V376.4H379.0V377.0H380.0V378.6H381.0V377.4H382.0V378.2H383.0V378.5H384.0V377.7H385.0V377.7H386.0V377.6H387.0V376.5H388.0V376.7H389.0V377.2H390.0V377.2H391.0V377.1H392.0V376.8H393.0V376.9H394.0V375.8H395.0V374.9H396.0V376.0H397.0V375.4H398.0V376.2H399.0V377.8H400.0V377.3H401.0V377.5H402.0V375.5H403.0V376.4H404.0V376.3H405.0V376.9H406.0V378.0H407.0V377.1H408.0V376.8H409.0V376.6H410.0V377.0H411.0V375.1H412.0V375.9H413.0V375.9H414.0V374.9H415.0V376.4H416.0V377.0H417.0V373.9H418.0V376.0H419.0V375.1H420.0V374.6H421.0V374.7H422.0V375.0H423.0V375.3H424.0V373.9H425.0V375.8H426.0V376.5H427.0V376.3H428.0V377.1H429.0V376.1H430.0V375.8H431.0V376.0H432.0V374.8H433.0V375.9H434.0V375.2H435.0V374.5H436.0V375.3H437.0V375.0H438.0V373.1H439.0V375.3H440.0V375.9H441.0V375.2H442.0V372.5H443.0V374.1H444.0V374.9H445.0V373.4H446.0V374.7H447.0V375.1H448.0V374.8H449.0V375.1H450.0V374.9H451.0V373.9H452.0V372.8H453.0V374.6H454.0V374.0H455.0V374.8H456.0V372.1H457.0V374.3H458.0V371.2H459.0V373.8H460.0V373.3H461.0V373.2H462.0V375.6H463.0V374.6H464.0V375.1H465.0V373.7H466.0V374.2H467.0V372.9H468.0V374.9H469.0V374.0H470.0V375.2H471.0V375.5H472.0V377.1H473.0V374.6H474.0V375.9H475.0V377.3H476.0V375.1H477.0V374.8H478.0V376.7H479.0V370.8H480.0V375.5H481.0V373.5H482.0V373.6H483.0V374.8H484.0V371.3H485.0V375.9H486.0V374.8H487.0V375.6H488.0V375.1H489.0V376.7H490.0V377.2H491.0V375.3H492.0V377.1H493.0V374.4H494.0V373.7H495.0V372.5H496.0V371.3H497.0V373.9H498.0V373.9H499.0V374.5H500.0V373.4H501.0V374.5H502.0V374.4H503.0V374.0H504.0V374.5H505.0V369.9H506.0V375.4H507.0V376.0H508.0V374.3H509.0V375.6H510.0V375.0H511.0V372.7H512.0V374.5H513.0V374.1H514.0V372.6H515.0V373.3H516.0V374.2H517.0V374.0H518.0V374.3H519.0V373.4H520.0V373.8H521.0V374.2H522.0V374.8H523.0V375.3H524.0V375.6H525.0V374.6H526.0V372.5H527.0V375.7H528.0V375.4H529.0V375.3H530.0V374.2H531.0V374.5H532.0V375.5H533.0V375.2H534.0V372.5H535.0V374.6H536.0V374.1H537.0V375.0H538.0V374.1H539.0V373.9H540.0V375.1H541.0V374.6H542.0V374.3H543.0V374.4H544.0V373.8H545.0V375.2H546.0V372.3H547.0V373.9H548.0V372.8H549.0V372.6H550.0V372.0H551.0V373.2H552.0V372.0H553.0V372.1H554.0V370.9H555.0V373.8H556.0V373.9H557.0V375.4H558.0V373.2H559.0V373.9H560.0V373.2H561.0V372.6H562.0V374.7H563.0V374.5H564.0V374.1H565.0V374.4H566.0V372.8H567.0V369.8H568.0V374.0H569.0V373.0H570.0V373.4H571.0V374.3H572.0V375.4H573.0V373.4H574.0V372.4H575.0V372.7H576.0V373.2H577.0V375.0H578.0V368.7H579.0V374.2H580.0V374.2H581.0V371.2H582.0V374.8H583.0V377.0H584.0V375.3H585.0V374.6H586.0V372.9H587.0V374.3H588.0V374.7H589.0V375.4H590.0V374.6H591.0V375.0H592.0V373.5H593.0V375.4H594.0V373.1H595.0V371.9H596.0V371.4H597.0V373.5H598.0V370.4H599.0V373.3H599.5V385.9H599.0V386.3H598.0V385.6H597.0V387.0H596.0V385.7H595.0V387.0H594.0V387.1H593.0V388.1H592.0V386.7H591.0V386.7H590.0V386.1H589.0V386.3H588.0V386.8H587.0V390.5H586.0V386.8H585.0V388.3H584.0V387.4H583.0V386.6H582.0V387.7H581.0V386.0H580.0V387.5H579.0V386.8H578.0V387.9H577.0V387.9H576.0V387.8H575.0V387.7H574.0V387.4H573.0V388.4H572.0V387.6H571.0V387.7H570.0V387.3H569.0V388.7H568.0V387.8H567.0V385.7H566.0V388.1H565.0V386.2H564.0V387.5H563.0V387.5H562.0V386.3H561.0V386.8H560.0V388.5H559.0V386.5H558.0V388.1H557.0V390.2H556.0V390.6H555.0V388.4H554.0V387.8H553.0V386.8H552.0V388.2H551.0V389.2H550.0V389.0H549.0V388.8H548.0V387.8H547.0V387.9H546.0V387.7H545.0V386.7H544.0V386.7H543.0V387.8H542.0V385.8H541.0V386.7H540.0V388.4H539.0V386.6H538.0V388.6H537.0V387.4H536.0V386.7H535.0V386.8H534.0V387.7H533.0V388.0H532.0V386.9H531.0V387.9H530.0V386.8H529.0V387.1H528.0V388.2H527.0V387.8H526.0V387.7H525.0V387.7H524.0V387.5H523.0V388.0H522.0V387.5H521.0V387.4H520.0V386.5H519.0V386.6H518.0V385.3H517.0V386.5H516.0V391.4H515.0V387.3H514.0V386.4H513.0V385.5H512.0V387.7H511.0V387.2H510.0V387.7H509.0V387.2H508.0V388.0H507.0V388.0H506.0V391.0H505.0V389.3H504.0V387.4H503.0V387.2H502.0V388.0H501.0V387.6H500.0V386.9H499.0V388.3H498.0V387.7H497.0V388.0H496.0V389.0H495.0V390.8H494.0V388.5H493.0V388.9H492.0V388.7H491.0V389.3H490.0V388.2H489.0V388.3H488.0V386.9H487.0V392.8H486.0V390.2H485.0V388.1H484.0V389.4H483.0V389.0H482.0V389.4H481.0V388.1H480.0V389.4H479.0V388.5H478.0V391.6H477.0V389.6H476.0V387.8H475.0V388.7H474.0V386.7H473.0V387.7H472.0V389.1H471.0V389.6H470.0V389.7H469.0V387.9H468.0V388.2H467.0V388.5H466.0V389.8H465.0V388.5H464.0V389.4H463.0V388.3H462.0V388.7H461.0V388.6H460.0V387.7H459.0V387.3H458.0V388.9H457.0V388.8H456.0V389.3H455.0V390.1H454.0V390.0H453.0V390.0H452.0V391.0H451.0V389.3H450.0V389.3H449.0V389.0H448.0V389.6H447.0V388.5H446.0V389.1H445.0V387.9H444.0V387.8H443.0V389.4H442.0V387.7H441.0V389.4H440.0V388.4H439.0V388.6H438.0V388.0H437.0V390.5H436.0V388.9H435.0V389.4H434.0V390.1H433.0V388.7H432.0V387.6H431.0V387.9H430.0V388.1H429.0V388.3H428.0V388.2H427.0V390.1H426.0V388.9H425.0V389.4H424.0V388.6H423.0V389.5H422.0V389.3H421.0V389.0H420.0V389.0H419.0V390.5H418.0V389.4H417.0V388.5H416.0V390.4H415.0V387.9H414.0V388.4H413.0V390.7H412.0V389.3H411.0V390.1H410.0V388.1H409.0V389.3H408.0V388.4H407.0V389.7H406.0V390.6H405.0V389.4H404.0V390.0H403.0V389.1H402.0V388.7H401.0V388.8H400.0V389.3H399.0V389.3H398.0V389.9H397.0V388.6H396.0V389.9H395.0V390.6H394.0V389.9H393.0V390.4H392.0V389.9H391.0V389.7H390.0V390.7H389.0V389.0H388.0V391.8H387.0V389.9H386.0V390.0H385.0V390.7H384.0V389.3H383.0V390.9H382.0V391.2H381.0V391.0H380.0V395.6H379.0V391.8H378.0V392.1H377.0V390.2H376.0V390.6H375.0V390.9H374.0V390.0H373.0V389.6H372.0V391.4H371.0V389.0H370.0V390.9H369.0V392.2H368.0V390.6H367.0V391.0H366.0V392.9H365.0V394.9H364.0V392.6H363.0V393.1H362.0V393.5H361.0V391.5H360.0V391.7H359.0V391.4H358.0V391.7H357.0V393.4H356.0V392.7H355.0V393.1H354.0V391.8H353.0V394.9H352.0V391.5H351.0V397.5H350.0V392.1H349.0V392.0H348.0V392.8H347.0V392.8H346.0V393.0H345.0V393.1H344.0V393.7H343.0V394.1H342.0V391.7H341.0V392.3H340.0V391.3H339.0V395.6H338.0V393.6H337.0V393.4H336.0V392.4H335.0V392.5H334.0V393.6H333.0V392.1H332.0V391.9H331.0V393.2H330.0V393.0H329.0V393.4H328.0V392.6H327.0V395.7H326.0V392.5H325.0V392.6H324.0V394.5H323.0V393.2H322.0V394.1H321.0V393.3H320.0V395.2H319.0V392.1H318.0V396.1H317.0V392.1H316.0V392.6H315.0V392.5H314.0V391.9H313.0V392.1H312.0V392.8H311.0V394.1H310.0V394.0H309.0V391.4H308.0V393.6H307.0V393.6H306.0V392.5H305.0V392.7H304.0V392.3H303.0V393.5H302.0V391.7H301.0V392.5H300.0V392.8H299.0V395.3H298.0V395.3H297.0V393.3H296.0V393.7H295.0V395.2H294.0V395.8H293.0V393.6H292.0V394.5H291.0V393.6H290.0V393.2H289.0V393.1H288.0V392.0H287.0V393.7H286.0V392.5H285.0V390.7H284.0V392.1H283.0V393.5H282.0V392.7H281.0V393.1H280.0V391.3H279.0V392.1H278.0V393.3H277.0V391.7H276.0V390.1H275.0V392.2H274.0V393.8H273.0V391.4H272.0V392.2H271.0V392.5H270.0V392.9H269.0V393.1H268.0V393.0H267.0V396.0H266.0V392.6H265.0V393.4H264.0V393.8H263.0V393.0H262.0V391.4H261.0V391.8H260.0V393.3H259.0V392.1H258.0V392.5H257.0V393.7H256.0V393.0H255.0V394.6H254.0V392.4H253.0V394.0H252.0V392.7H251.0V393.9H250.0V393.8H249.0V394.1H248.0V392.3H247.0V393.0H246.0V393.6H245.0V394.9H244.0V397.3H243.0V391.7H242.0V393.4H241.0V394.1H240.0V393.8H239.0V394.3H238.0V392.4H237.0V393.2H236.0V394.6H235.0V392.3H234.0V392.8H233.0V393.4H232.0V393.8H231.0V394.0H230.0V393.0H229.0V392.3H228.0V392.2H227.0V393.2H226.0V392.6H225.0V393.8H224.0V393.9H223.0V394.8H222.0V394.6H221.0V393.9H220.0V393.3H219.0V393.0H218.0V393.8H217.0V395.3H216.0V394.6H215.0V395.0H214.0V395.0H213.0V394.9H212.0V396.1H211.0V396.1H210.0V395.9H209.0V394.7H208.0V394.6H207.0V395.5H206.0V396.3H205.0V393.9H204.0V394.9H203.0V394.6H202.0V395.1H201.0V394.7H200.0V394.8H199.0V395.2H198.0V394.7H197.0V394.1H196.0V393.2H195.0V396.6H194.0V392.6H193.0V393.2H192.0V392.8H191.0V392.7H190.0V396.8H189.0V392.5H188.0V391.4H187.0V391.3H186.0V390.5H185.0V390.1H184.0V390.7H183.0V391.4H182.0V389.2H181.0V390.6H180.0V387.8H179.0V389.1H178.0V390.6H177.0V387.8H176.0V389.1H175.0V389.8H174.0V387.6H173.0V388.1H172.0V387.2H171.0V389.3H170.0V387.7H169.0V387.7H168.0V386.3H167.0V387.5H166.0V386.2H165.0V388.3H164.0V387.8H163.0V388.2H162.0V387.8H161.0V388.2H160.0V386.7H159.0V387.8H158.0V387.3H157.0V386.6H156.0V386.3H155.0V386.7H154.0V387.1H153.0V386.3H152.0V385.4H151.0V386.2H150.0V386.3H149.0V386.2H148.0V385.4H147.0V387.4H146.0V389.1H145.0V389.6H144.0V387.7H143.0V385.9H142.0V389.6H141.0V385.5H140.0V386.9H139.0V386.1H138.0V385.1H137.0V385.7H136.0V386.5H135.0V386.7H134.0V384.4H133.0V385.8H132.0V383.9H131.0V384.3H130.0V385.0H129.0V384.0H128.0V385.1H127.0V385.4H126.0V383.5H125.0V386.2H124.0V385.8H123.0V385.5H122.0V386.0H121.0V384.9H120.0V386.7H119.0V385.0H118.0V385.8H117.0V385.4H116.0V385.3H115.0V385.7H114.0V385.2H113.0V385.0H112.0V381.7H111.0V381.6H110.0V380.8H109.0V381.0H108.0V382.0H107.0V380.7H106.0V381.3H105.0V381.6H104.0V380.6H103.0V380.5H102.0V380.3H101.0V380.2H100.0V385.9H99.0V380.7H98.0V381.7H97.0Z" fill="#eb3035"/>
<line x1="234.8" y1="321.5" x2="234.8" y2="382.0" stroke="#d8282e" stroke-width="0.80" opacity="0.85"/>
<line x1="251.5" y1="365.0" x2="251.5" y2="382.0" stroke="#d8282e" stroke-width="0.80" opacity="0.8"/>
<line x1="289.7" y1="364.0" x2="289.7" y2="382.0" stroke="#d8282e" stroke-width="0.80" opacity="0.8"/>
<line x1="311.3" y1="350.0" x2="311.3" y2="382.0" stroke="#d8282e" stroke-width="0.80" opacity="0.75"/>
<line x1="334.3" y1="361.5" x2="334.3" y2="382.0" stroke="#d8282e" stroke-width="0.80" opacity="0.8"/>
<line x1="348.3" y1="369.0" x2="348.3" y2="382.0" stroke="#d8282e" stroke-width="0.80" opacity="0.8"/>
<line x1="595.5" y1="358.0" x2="595.5" y2="382.0" stroke="#d8282e" stroke-width="0.80" opacity="0.8"/>
<line x1="162.6" y1="357.0" x2="162.6" y2="382.0" stroke="#d8282e" stroke-width="0.80" opacity="0.45"/>
<line x1="181.7" y1="357.0" x2="181.7" y2="382.0" stroke="#d8282e" stroke-width="0.80" opacity="0.45"/>
<line x1="165.5" y1="362.0" x2="165.5" y2="382.0" stroke="#d8282e" stroke-width="0.80" opacity="0.4"/>
<line x1="99.5" y1="349.0" x2="99.5" y2="375.0" stroke="#eb3035" stroke-width="0.70" opacity="1"/>
<line x1="101.5" y1="351.5" x2="101.5" y2="375.0" stroke="#eb3035" stroke-width="0.70" opacity="1"/>
<line x1="103.5" y1="347.5" x2="103.5" y2="375.0" stroke="#eb3035" stroke-width="0.70" opacity="1"/>
<line x1="105.5" y1="351.0" x2="105.5" y2="375.0" stroke="#eb3035" stroke-width="0.70" opacity="1"/>
<line x1="108.5" y1="350.0" x2="108.5" y2="375.0" stroke="#eb3035" stroke-width="0.70" opacity="1"/>
<line x1="110.5" y1="352.0" x2="110.5" y2="375.0" stroke="#eb3035" stroke-width="0.70" opacity="1"/>
</g>
<g id="frame">
<line x1="92.5" y1="81.1" x2="600.6" y2="81.1" stroke="#7f7f7f" stroke-width="1.5"/><line x1="599.9" y1="81.1" x2="599.9" y2="406.1" stroke="#7f7f7f" stroke-width="1.5"/><line x1="91.8" y1="405.4" x2="600.6" y2="405.4" stroke="#58595b" stroke-width="1.4"/><line x1="193.9" y1="405.4" x2="193.9" y2="401.0" stroke="#333" stroke-width="0.9"/><line x1="295.3" y1="405.4" x2="295.3" y2="401.0" stroke="#333" stroke-width="0.9"/><line x1="396.7" y1="405.4" x2="396.7" y2="401.0" stroke="#333" stroke-width="0.9"/><line x1="498.1" y1="405.4" x2="498.1" y2="401.0" stroke="#333" stroke-width="0.9"/><line x1="92.0" y1="145.9" x2="95.8" y2="145.9" stroke="#4a1c20" stroke-width="0.8"/><line x1="92.0" y1="210.8" x2="95.8" y2="210.8" stroke="#4a1c20" stroke-width="0.8"/><line x1="92.0" y1="275.7" x2="95.8" y2="275.7" stroke="#4a1c20" stroke-width="0.8"/>
</g>
<g id="labels">
<rect x="0.5" y="0.4" width="181.2" height="48.4" fill="#fff" stroke="#3f3f41" stroke-width="1.15"/>
<text transform="translate(13.82,19.60) scale(0.9809,1)" font-size="19.40" fill="#1f1b1c" stroke="#1f1b1c">Gas supply</text>
<text transform="translate(13.97,40.20) scale(0.9855,1)" font-size="19.40" fill="#1f1b1c" stroke="#1f1b1c">from the 1st cycle</text>
<line x1="91.5" y1="49" x2="91.5" y2="66" stroke="#1f1b1c" stroke-width="0.9"/>
<path d="M88,63.3 L95,63.3 L91.5,75.4Z" fill="#1f1b1c"/>
<text transform="translate(52.20,84.60) scale(1.0000,1)" font-size="19.05" fill="#1f1b1c" stroke="#1f1b1c">1.0</text>
<text transform="translate(52.00,150.00) scale(1.0000,1)" font-size="19.05" fill="#1f1b1c" stroke="#1f1b1c">0.8</text>
<text transform="translate(52.11,216.30) scale(1.0000,1)" font-size="19.05" fill="#1f1b1c" stroke="#1f1b1c">0.6</text>
<text transform="translate(51.52,281.70) scale(1.0000,1)" font-size="19.05" fill="#1f1b1c" stroke="#1f1b1c">0.4</text>
<text transform="translate(52.18,347.30) scale(1.0000,1)" font-size="19.05" fill="#1f1b1c" stroke="#1f1b1c">0.2</text>
<text transform="translate(67.69,412.70) scale(1.0000,1)" font-size="19.05" fill="#1f1b1c" stroke="#1f1b1c">0</text>
<text transform="translate(87.22,436.60) scale(1.0000,1)" font-size="19.05" fill="#1f1b1c" stroke="#1f1b1c">0</text>
<text transform="translate(188.45,436.60) scale(1.0000,1)" font-size="19.05" fill="#1f1b1c" stroke="#1f1b1c">2</text>
<text transform="translate(289.91,436.60) scale(1.0000,1)" font-size="19.05" fill="#1f1b1c" stroke="#1f1b1c">4</text>
<text transform="translate(392.00,436.60) scale(1.0000,1)" font-size="19.05" fill="#1f1b1c" stroke="#1f1b1c">6</text>
<text transform="translate(492.69,436.60) scale(1.0000,1)" font-size="19.05" fill="#1f1b1c" stroke="#1f1b1c">8</text>
<text transform="translate(589.20,436.60) scale(1.0000,1)" font-size="19.05" fill="#1f1b1c" stroke="#1f1b1c">10</text>
<text transform="translate(185.59,466.20) scale(0.9965,1)" font-size="21.10" fill="#1f1b1c" stroke="#1f1b1c">Number of cycles N, x10</text>
<text transform="translate(429.96,460.30) scale(0.9925,1)" font-size="15.00" fill="#1f1b1c" stroke="#1f1b1c">3</text>
<text transform="translate(445.20,466.20) scale(0.9706,1)" font-size="21.10" fill="#1f1b1c" stroke="#1f1b1c">cycles</text>
<text transform="translate(34.80,333.61) rotate(-90) scale(0.9699,1)" font-size="21.70" fill="#1f1b1c" stroke="#1f1b1c">Friction coefficient</text>
<text transform="translate(34.80,137.10) rotate(-90) scale(1.0359,1)" font-size="21.50" fill="#1f1b1c" stroke="#1f1b1c" style="font-weight:normal;stroke-width:0">μ</text>
<text transform="translate(245.12,99.50) scale(0.9612,1)" font-size="15.30" fill="#1f1b1c" stroke="#1f1b1c">Pin: 400 nm CNx (Rz=0.13</text>
<text transform="translate(430.62,99.50) scale(1.1633,1)" font-size="15.00" fill="#1f1b1c" stroke="#1f1b1c" style="font-weight:normal;stroke-width:0">μ</text>
<text transform="translate(439.52,99.50) scale(0.9700,1)" font-size="15.30" fill="#1f1b1c" stroke="#1f1b1c">m) / Si</text>
<text transform="translate(483.77,103.50) scale(1.0478,1)" font-size="9.60" fill="#1f1b1c" stroke="#1f1b1c">3</text>
<text transform="translate(489.50,99.50) scale(1.0784,1)" font-size="15.30" fill="#1f1b1c" stroke="#1f1b1c">N</text>
<text transform="translate(500.46,103.50) scale(0.9723,1)" font-size="9.60" fill="#1f1b1c" stroke="#1f1b1c">4</text>
<text transform="translate(245.12,117.30) scale(0.9619,1)" font-size="15.30" fill="#1f1b1c" stroke="#1f1b1c">Disk: 400 nm CNx (Rz=0.88</text>
<text transform="translate(438.92,117.30) scale(1.1633,1)" font-size="15.00" fill="#1f1b1c" stroke="#1f1b1c" style="font-weight:normal;stroke-width:0">μ</text>
<text transform="translate(447.81,117.30) scale(0.9791,1)" font-size="15.30" fill="#1f1b1c" stroke="#1f1b1c">m) / Si</text>
<text transform="translate(492.17,121.30) scale(1.0269,1)" font-size="9.60" fill="#1f1b1c" stroke="#1f1b1c">3</text>
<text transform="translate(497.91,117.30) scale(1.0673,1)" font-size="15.30" fill="#1f1b1c" stroke="#1f1b1c">N</text>
<text transform="translate(509.16,121.30) scale(0.9529,1)" font-size="9.60" fill="#1f1b1c" stroke="#1f1b1c">4</text>
<text transform="translate(245.11,136.00) scale(0.9697,1)" font-size="15.30" fill="#1f1b1c" stroke="#1f1b1c">Load: 1 N, Sliding speed: 0.21-0.27 m/s (250 rpm)</text>
<text transform="translate(245.93,154.10) scale(0.9612,1)" font-size="15.30" fill="#1f1b1c" stroke="#1f1b1c">Temperature: 20-24 °C, Humidity: RH 20-40 %</text>
<text transform="translate(245.49,172.20) scale(0.9689,1)" font-size="15.30" fill="#1f1b1c" stroke="#1f1b1c">Gas flow rate: 2.0 L/min. (2.10 cc/mm</text>
<text transform="translate(505.15,168.00) scale(1.0606,1)" font-size="9.40" fill="#1f1b1c" stroke="#1f1b1c">2</text>
<text transform="translate(512.27,172.20) scale(0.9834,1)" font-size="15.30" fill="#1f1b1c" stroke="#1f1b1c">s)</text>
<text transform="translate(622.63,327.60) scale(0.9681,1)" font-size="19.60" fill="#4058a7" stroke="#4058a7">Air</text>
<text transform="translate(680.58,327.10) scale(1.0000,1)" font-size="20.80" fill="#4058a7" stroke="#4058a7">0.25</text>
<text transform="translate(621.93,363.00) scale(1.0794,1)" font-size="19.60" fill="#05884a" stroke="#05884a">O</text>
<text transform="translate(637.37,366.90) scale(1.0561,1)" font-size="11.80" fill="#05884a" stroke="#05884a">2</text>
<text transform="translate(680.98,362.70) scale(1.0000,1)" font-size="20.80" fill="#05884a" stroke="#05884a">0.16</text>
<text transform="translate(609.64,384.60) scale(0.9637,1)" font-size="19.60" fill="#8a2c91" stroke="#8a2c91">Dry air</text>
<text transform="translate(680.98,384.60) scale(1.0000,1)" font-size="20.80" fill="#8a2c91" stroke="#8a2c91">0.11</text>
<text transform="translate(621.90,411.90) scale(1.0675,1)" font-size="19.60" fill="#eb3035" stroke="#eb3035">N</text>
<text transform="translate(636.47,415.80) scale(1.0561,1)" font-size="11.80" fill="#eb3035" stroke="#eb3035">2</text>
<text transform="translate(681.48,411.60) scale(1.0000,1)" font-size="20.80" fill="#eb3035" stroke="#eb3035">0.07</text>
</g>
</svg>
</body>
</html>
